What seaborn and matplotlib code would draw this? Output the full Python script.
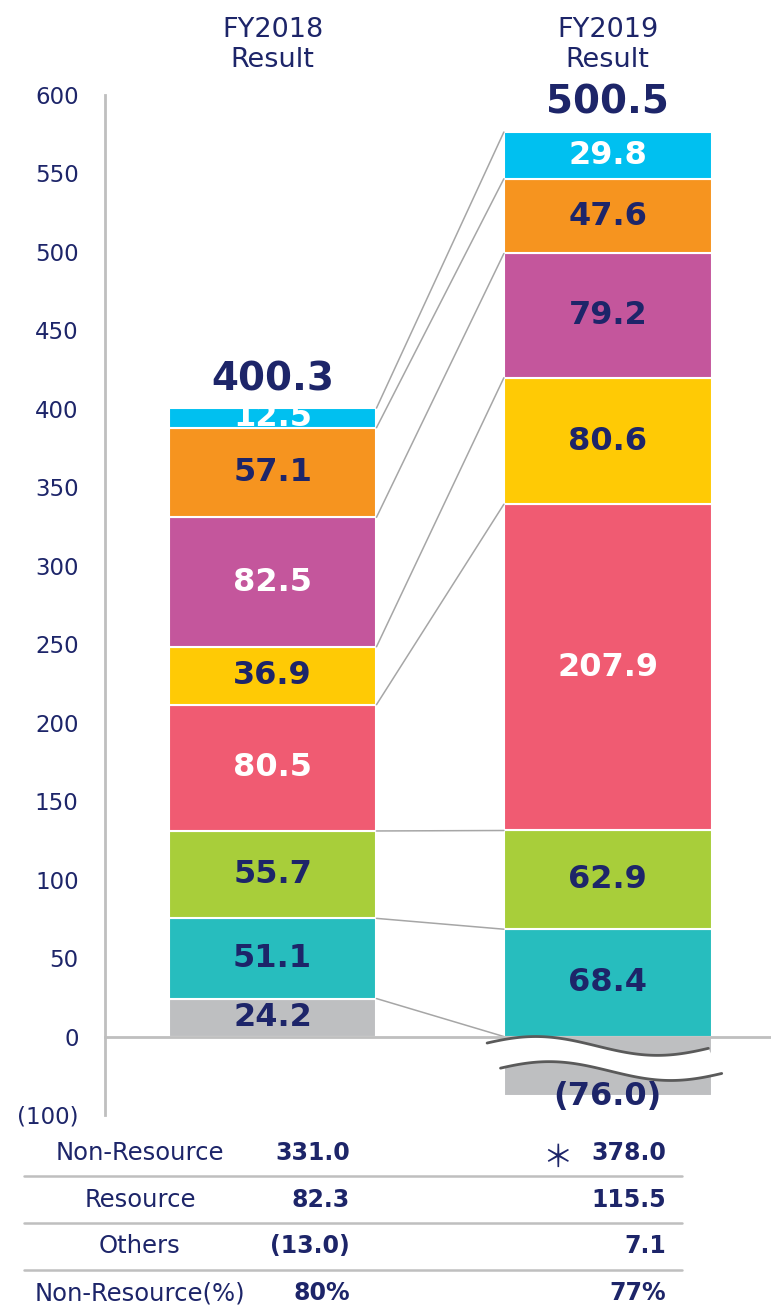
import numpy as np
import matplotlib
matplotlib.use("Agg")
import matplotlib.pyplot as plt
import seaborn as sns
from matplotlib.lines import Line2D
from matplotlib.transforms import blended_transform_factory

# Data (bottom segment first)
years = ['FY2018', 'FY2019']
fy2018 = [24.2, 51.1, 55.7, 80.5, 36.9, 82.5, 57.1, 12.5]
fy2019 = [-76.0, 68.4, 62.9, 207.9, 80.6, 79.2, 47.6, 29.8]
totals = [400.3, 500.5]

seg_colors = ['#BEBFC1', '#27BDBE', '#A8CE3A', '#F05B72',
              '#FFCA05', '#C4569C', '#F6941F', '#00C0F0']
white_2018 = [False, False, False, True, False, True, False, True]
white_2019 = [False, False, False, True, False, False, False, True]

row_names = ['Non-Resource', 'Resource', 'Others', 'Non-Resource(%)']
row_2018 = [331.0, 82.3, -13.0, 80]
row_2019 = [378.0, 115.5, 7.1, 77]

navy = '#1d2569'
axis_gray = '#BFBFBF'

sns.set_style('white')
plt.rcParams['font.family'] = ['DejaVu Sans']


def stack(vals):
    bottoms, tops = [], []
    pos = 0.0
    for v in vals:
        if v >= 0:
            bottoms.append(pos)
            pos += v
            tops.append(pos)
        else:
            bottoms.append(0.0)
            tops.append(0.0)
    return bottoms, tops


b18, t18 = stack(fy2018)
b19, t19 = stack(fy2019)

fig = plt.figure(figsize=(7.71, 13.05), dpi=100)
ax = fig.add_axes([105 / 771, 1 - 1115 / 1305, 1 - 105 / 771, 1020 / 1305])

# negative part of the axis is compressed
def fwd(y):
    y = np.asarray(y, dtype=float)
    return np.where(y < 0, y * 0.5, y)

def inv(y):
    y = np.asarray(y, dtype=float)
    return np.where(y < 0, y * 2.0, y)

ax.set_yscale('function', functions=(fwd, inv))

bar_w = 0.62
for i, c in enumerate(seg_colors):
    sns.barplot(x=years, y=[fy2018[i], fy2019[i]], bottom=[b18[i], b19[i]],
                color=c, saturation=1, width=bar_w, errorbar=None,
                edgecolor='white', linewidth=1.5, ax=ax)

# segment labels
for xi, (vals, bots, whites) in enumerate([(fy2018, b18, white_2018), (fy2019, b19, white_2019)]):
    for v, b, w in zip(vals, bots, whites):
        if v >= 0:
            y = b + v / 2
            txt = f'{v:.1f}'
        else:
            y = v
            txt = f'({abs(v):.1f})'
        ax.text(xi, y, txt, ha='center', va='center', fontsize=23,
                fontweight='bold', color='white' if w else navy, zorder=6)

# totals
for xi, (tot, tops) in enumerate([(totals[0], t18), (totals[1], t19)]):
    ax.annotate(f'{tot:.1f}', xy=(xi, max(tops)), xytext=(0, 13),
                textcoords='offset points', ha='center', va='baseline',
                fontsize=28, fontweight='bold', color=navy)

# connector lines between matching segment tops
for a, b in zip(t18, t19):
    ax.plot([bar_w / 2, 1 - bar_w / 2], [a, b], color='#A6A6A6', lw=1.1, zorder=2)

# axis break on the negative bar
xw = np.linspace(1 - 0.36, 1 + 0.30, 120)
tt = (xw - xw[0]) / (xw[-1] - xw[0])
wave = np.sin(2 * np.pi * (tt + 0.055) / 1.1)
y_top = -12 + 12 * wave
y_bot = -44 + 12 * wave
xb = xw + 0.04
ax.fill(np.concatenate([xw, xb[::-1]]), np.concatenate([y_top, y_bot[::-1]]),
        color='white', zorder=3, lw=0)
ax.plot(xw, y_top, color='#5a5a5a', lw=2, zorder=4, solid_capstyle='round')
ax.plot(xb, y_bot, color='#5a5a5a', lw=2, zorder=4, solid_capstyle='round')

# axes styling
ax.set_xlim(-0.5, 1.487)
ax.set_ylim(-100, 600)
yt = [-100] + list(range(0, 601, 50))
ax.set_yticks(yt)
ax.set_yticklabels(['(100)'] + [str(v) for v in range(0, 601, 50)])
ax.set_xticks([0.5])
ax.set_xticklabels([''])
ax.tick_params(axis='y', colors=axis_gray, labelcolor=navy, labelsize=16.5,
               length=5, width=1.5, pad=14)
ax.tick_params(axis='x', colors=axis_gray, length=7, width=1.5, direction='out')
for s in ['top', 'right']:
    ax.spines[s].set_visible(False)
ax.spines['left'].set_color(axis_gray)
ax.spines['left'].set_linewidth(2)
ax.spines['bottom'].set_position(('data', 0))
ax.spines['bottom'].set_color(axis_gray)
ax.spines['bottom'].set_linewidth(2)
ax.set_xlabel('')
ax.set_ylabel('')

# column headers
hdr = blended_transform_factory(ax.transData, fig.transFigure)
for xi, yr in enumerate(years):
    ax.text(xi, 1 - 45 / 1305, f'{yr}\nResult', transform=hdr, ha='center',
            va='center', fontsize=19.5, color=navy, linespacing=1.2)

# table below the chart
def fmt(v, pct):
    if pct:
        return f'{v:.0f}%'
    return f'({abs(v):.1f})' if v < 0 else f'{v:.1f}'

baselines = [1160, 1207, 1253, 1300]
for r, name in enumerate(row_names):
    y = 1 - baselines[r] / 1305
    pct = name.endswith('(%)')
    fig.text(140 / 771, y, name, ha='center', va='baseline', fontsize=17.5, color=navy)
    fig.text(350 / 771, y, fmt(row_2018[r], pct), ha='right', va='baseline',
             fontsize=17, fontweight='bold', color=navy)
    fig.text(666 / 771, y, fmt(row_2019[r], pct), ha='right', va='baseline',
             fontsize=17, fontweight='bold', color=navy)
fig.text(557 / 771, 1 - 1158 / 1305, '\uff0a', ha='center', va='center',
         fontsize=22, color=navy, family=['Noto Sans CJK JP', 'DejaVu Sans'])

for ysep in [1176, 1223, 1270]:
    yf = 1 - ysep / 1305
    fig.add_artist(Line2D([24 / 771, 682 / 771], [yf, yf], color=axis_gray, lw=1.8))

fig.savefig('out.png', dpi=100)
